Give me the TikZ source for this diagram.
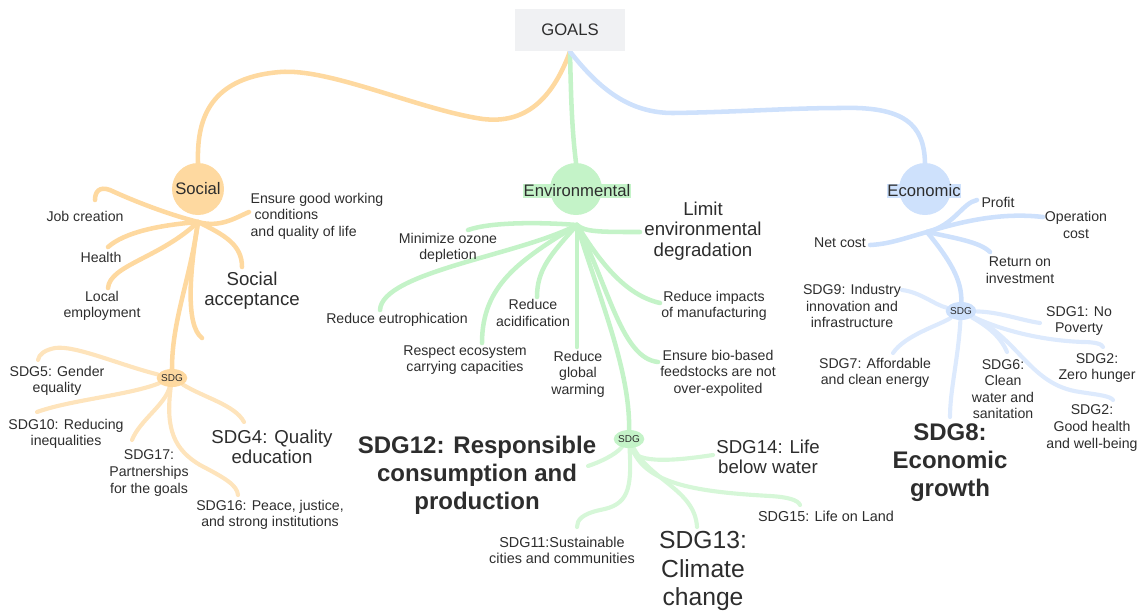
\documentclass[tikz,border=0pt]{standalone}
\usepackage{fontspec}
\setmainfont{Liberation Sans}
\usetikzlibrary{shapes.geometric,backgrounds}

\definecolor{socC}{RGB}{254,217,160}
\definecolor{envC}{RGB}{196,243,200}
\definecolor{ecoC}{RGB}{206,225,252}
\definecolor{boxC}{RGB}{240,241,243}
\definecolor{txtC}{RGB}{45,45,45}

\tikzset{
  lbl/.style={text=txtC, align=center, inner sep=1pt, font=\fontsize{10.6}{12.4}\selectfont},
  biglbl/.style={lbl, font=\fontsize{14}{15.2}\selectfont},
  hugelbl/.style={lbl, font=\fontsize{18}{21}\selectfont\bfseries},
  branch/.style={line width=3.4pt, line cap=round},
  twig/.style={line width=3.1pt, line cap=round},
  hub/.style={circle, minimum size=39pt, inner sep=0pt, text=txtC, font=\fontsize{12.5}{14}\selectfont},
  sdg/.style={ellipse, minimum width=21pt, minimum height=13.5pt, inner sep=0pt, text=txtC, font=\fontsize{7.5}{8}\selectfont},
}

\begin{document}
\begin{tikzpicture}[x=0.75pt,y=-0.75pt]
    \useasboundingbox (0,0) rectangle (1141,612);
    %% root and the three pillars
    \node[fill=boxC, minimum width=82.5pt, minimum height=32pt, text=txtC,
          font=\fontsize{12.5}{14}\selectfont] (goals) at (570,30) {GOALS};
    \node[hub, fill=socC] (soc) at (198,189) {Social};
    \node[hub, fill=envC] (env) at (576,189) {};
    \node[hub, fill=ecoC] (eco) at (925,189) {};
    \node[hub, fill=envC, shape=rectangle, minimum size=0pt, inner sep=0.6pt] (envT) at (577,191) {Environmental};
    \node[hub, fill=ecoC, shape=rectangle, minimum size=0pt, inner sep=0.6pt] (ecoT) at (924,191) {Economic};
    %% SDG nodes
    \node[sdg, fill=socC] (socS) at (172,378) {SDG};
    \node[sdg, fill=envC] (envS) at (629,439) {SDG};
    \node[sdg, fill=ecoC] (ecoS) at (961,311) {SDG};

    %% social labels
    \node[lbl] (jobL) at (85,216) {Job creation};
    \node[lbl] (hltL) at (101,257) {Health};
    \node[lbl] (locL) at (102,306) {Local\\employment};
    \node[lbl, align=left, anchor=west] (wrkL) at (249,216) {Ensure good working\\\hspace*{3pt}conditions\\and quality of life};
    \node[biglbl] (accL) at (252,291) {Social\\acceptance};
    \node[lbl] (s5L) at (57,381) {SDG5: Gender\\equality};
    \node[lbl] (s10L) at (66,434) {SDG10: Reducing\\inequalities};
    \node[lbl] (s17L) at (149,473) {SDG17:\\Partnerships\\for the goals};
    \node[lbl] (s16L) at (270,515) {SDG16: Peace, justice,\\and strong institutions};
    \node[biglbl] (s4L) at (272,447) {SDG4: Quality\\education};

    %% environmental labels
    \node[lbl] (ozoL) at (448,248) {Minimize ozone\\depletion};
    \node[biglbl] (limL) at (703,231) {Limit\\environmental\\degradation};
    \node[lbl] (eutL) at (397,320) {Reduce eutrophication};
    \node[lbl] (resL) at (465,360) {Respect ecosystem\\carrying capacities};
    \node[lbl] (acdL) at (533,313) {Reduce\\acidification};
    \node[lbl] (warL) at (578,374) {Reduce\\global\\warming};
    \node[lbl] (manL) at (714,306) {Reduce impacts\\of manufacturing};
    \node[lbl] (bioL) at (718,373) {Ensure bio-based\\feedstocks are not\\over-expolited};
    \node[hugelbl] (s12L) at (477,475) {SDG12: Responsible\\consumption and\\production};
    \node[lbl, font=\fontsize{14}{15.2}\selectfont] (s14L) at (768,457) {SDG14: Life\\below water};
    \node[lbl, font=\fontsize{10.8}{12}\selectfont] (s15L) at (826,516) {SDG15: Life on Land};
    \node[lbl, font=\fontsize{10.8}{11.8}\selectfont] (s11L) at (562,550) {SDG11:Sustainable\\cities and communities};
    \node[lbl, font=\fontsize{18.5}{21.5}\selectfont] (s13L) at (703,571) {SDG13:\\Climate\\change};

    %% economic labels
    \node[lbl] (proL) at (998,202) {Profit};
    \node[lbl] (opeL) at (1076,225) {Operation\\cost};
    \node[lbl] (netL) at (840,243) {Net cost};
    \node[lbl] (roiL) at (1020,270) {Return on\\investment};
    \node[lbl] (s9L) at (852,306) {SDG9: Industry\\innovation and\\infrastructure};
    \node[lbl] (s1L) at (1079,321) {SDG1: No\\Poverty};
    \node[lbl] (s2L) at (1097,368) {SDG2:\\Zero hunger};
    \node[lbl] (s3L) at (1092,428) {SDG2:\\Good health\\and well-being};
    \node[lbl] (s7L) at (875,373) {SDG7: Affordable\\and clean energy};
    \node[lbl] (s6L) at (1003,389) {SDG6:\\Clean\\water and\\sanitation};
    \node[hugelbl] (s8L) at (950,463) {SDG8:\\Economic\\growth};

    %% branch roots and free ends
    \foreach \nm/\x/\y in {socH/198/222, envH/577/225, ecoH/927/232,
        jobE/95/200, hltE/108/247, locE/108/288, wrkE/249/212, accE/242/267, blkE/202/338,
        s5E/38/360, s10E/37/412, s17E/132/440, s16E/238/495, s4E/244/422,
        ozoE/468/230, limE/640/232, eutE/380/310, resE/482/343, acdE/537/297,
        warE/577/347, manE/660/303, bioE/658/362,
        s12E/588/466, s14E/713/455, s15E/800/505, s11E/577/527, s13E/697/527,
        proE/977/200, opeE/1043/217, netE/870/245, roiE/990/252,
        s9E/902/290, s1E/1040/323, s2E/1103/347, s3E/1113/400, s7E/893/353,
        s6E/1007/352, s8E/950/417}
        \coordinate (\nm) at (\x,\y);

    \begin{scope}[on background layer]
    %% trunks
    \draw[branch, socC] (goals.south) .. controls (552,100) and (525,124) .. (483,119)
        .. controls (420,110) and (330,68) .. (280,72) .. controls (205,78) and (197,125) .. (soc.north);
    \draw[branch, envC] (goals.south) .. controls (571,100) and (572,130) .. (env.north);
    \draw[branch, ecoC] (goals.south) .. controls (600,90) and (630,113) .. (673,113)
        .. controls (740,112) and (790,108) .. (840,108) .. controls (905,106) and (924,125) .. (eco.north);

    %% social
    \begin{scope}[branch, socC]
    \draw (socH) .. controls (160,212) and (125,197) .. (110,190) .. controls (99,186) and (95,192) .. (jobE);
    \draw (socH) .. controls (160,225) and (125,232) .. (hltE);
    \draw (socH) .. controls (160,258) and (110,265) .. (locE);
    \draw (socH) .. controls (220,228) and (235,218) .. (wrkE);
    \draw (socH) .. controls (225,235) and (242,245) .. (accE);
    \draw (socH) .. controls (190,270) and (185,325) .. (blkE);
    \draw (socH) .. controls (190,280) and (172,320) .. (socS);
    \end{scope}
    \begin{scope}[twig, socC!70]
    \draw (socS) .. controls (120,365) and (75,345) .. (55,348) .. controls (45,350) and (39,354) .. (s5E);
    \draw (socS) .. controls (130,395) and (70,400) .. (s10E);
    \draw (socS) .. controls (165,405) and (140,420) .. (s17E);
    \draw (socS) .. controls (165,430) and (175,450) .. (200,465) .. controls (225,478) and (237,485) .. (s16E);
    \draw (socS) .. controls (205,398) and (235,405) .. (s4E);
    \end{scope}

    %% environmental
    \begin{scope}[branch, envC]
    \draw (envH) .. controls (540,222) and (490,222) .. (ozoE);
    \draw (envH) .. controls (585,232) and (600,232) .. (limE);
    \draw (envH) .. controls (520,255) and (382,272) .. (eutE);
    \draw (envH) .. controls (520,260) and (482,285) .. (resE);
    \draw (envH) .. controls (550,255) and (537,270) .. (acdE);
    \draw (envH) -- (warE);
    \draw (envH) .. controls (600,262) and (625,295) .. (manE);
    \draw (envH) .. controls (610,290) and (622,358) .. (bioE);
    \draw (envH) .. controls (600,300) and (630,370) .. (envS);
    \end{scope}
    \begin{scope}[twig, envC!70]
    \draw (envS) .. controls (615,455) and (600,462) .. (s12E);
    \draw (envS) .. controls (635,465) and (680,460) .. (s14E);
    \draw (envS) .. controls (645,485) and (700,492) .. (770,496) .. controls (788,497) and (798,500) .. (s15E);
    \draw (envS) .. controls (632,490) and (628,505) .. (600,510) .. controls (582,514) and (577,520) .. (s11E);
    \draw (envS) .. controls (650,480) and (695,490) .. (s13E);
    \end{scope}

    %% economic
    \begin{scope}[branch, ecoC]
    \draw (ecoH) .. controls (955,225) and (962,203) .. (proE);
    \draw (ecoH) .. controls (960,222) and (1000,212) .. (opeE);
    \draw (ecoH) .. controls (905,238) and (890,244) .. (netE);
    \draw (ecoH) .. controls (955,238) and (980,242) .. (roiE);
    \draw (ecoH) .. controls (950,260) and (962,280) .. (ecoS);
    \end{scope}
    \begin{scope}[twig, ecoC!70]
    \draw (ecoS) .. controls (935,305) and (920,292) .. (s9E);
    \draw (ecoS) .. controls (1000,312) and (1020,320) .. (s1E);
    \draw (ecoS) .. controls (990,325) and (1030,340) .. (1083,342) .. controls (1095,342) and (1102,344) .. (s2E);
    \draw (ecoS) .. controls (1020,340) and (1030,385) .. (1080,392) .. controls (1100,395) and (1110,396) .. (s3E);
    \draw (ecoS) .. controls (940,325) and (905,335) .. (s7E);
    \draw (ecoS) .. controls (985,325) and (1000,335) .. (s6E);
    \draw (ecoS) .. controls (958,360) and (950,390) .. (s8E);
    \end{scope}
    \end{scope}
\end{tikzpicture}
\end{document}
